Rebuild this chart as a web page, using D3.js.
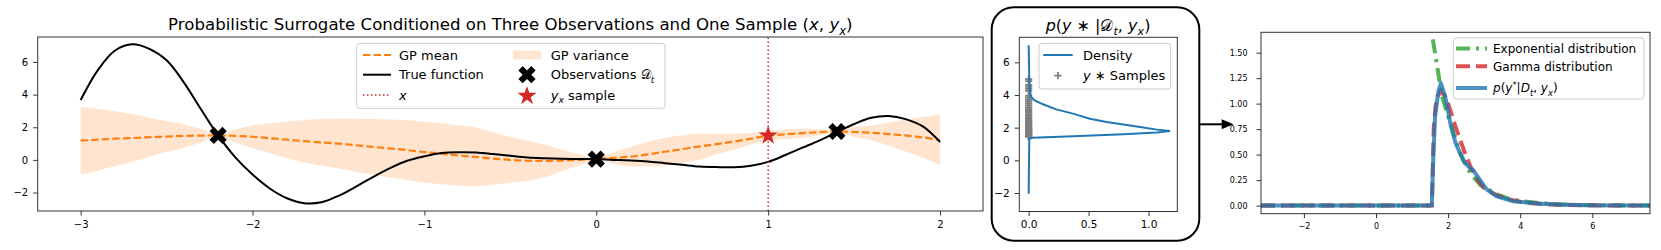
<!DOCTYPE html>
<html>
<head>
<meta charset="utf-8">
<script src="https://cdn.jsdelivr.net/npm/d3@7"></script>
<style>
  body { margin: 0; background: #fff; }
  svg text { font-family: "DejaVu Sans", sans-serif; fill: #000; }
</style>
</head>
<body>
<div id="chart"></div>
<script>
// ---------- panel 1 : GP surrogate ----------
const xGrid = [-3.0, -2.9, -2.8, -2.7, -2.6, -2.5, -2.4, -2.3, -2.2, -2.1, -2.0, -1.9, -1.8, -1.7, -1.6, -1.5, -1.4, -1.3, -1.2, -1.1,
  -1.0, -0.9, -0.8, -0.7, -0.6, -0.5, -0.4, -0.3, -0.2, -0.1, 0.0, 0.1, 0.2, 0.3, 0.4, 0.5, 0.6, 0.7, 0.8, 0.9,
  1.0, 1.1, 1.2, 1.3, 1.4, 1.5, 1.6, 1.7, 1.8, 1.9, 2.0];
const trueFunction = [3.67, 5.5, 6.7, 7.08, 6.8, 6.1, 4.75, 3.1, 1.5, 0.15, -0.9, -1.75, -2.35, -2.65, -2.6, -2.2, -1.65, -1.05, -0.5, -0.05,
  0.22, 0.42, 0.47, 0.45, 0.36, 0.25, 0.15, 0.1, 0.07, 0.06, 0.05, 0.0, -0.04, -0.1, -0.2, -0.3, -0.4, -0.44, -0.45, -0.36,
  -0.12, 0.3, 0.75, 1.2, 1.7, 2.2, 2.58, 2.69, 2.5, 2.05, 1.1];
const gpMean = [1.18, 1.24, 1.3, 1.34, 1.39, 1.43, 1.47, 1.49, 1.5, 1.47, 1.42, 1.33, 1.24, 1.15, 1.07, 1.0, 0.9, 0.8, 0.7, 0.6,
  0.48, 0.38, 0.27, 0.18, 0.08, 0.0, -0.05, -0.06, -0.04, 0.0, 0.05, 0.12, 0.2, 0.34, 0.5, 0.66, 0.82, 0.97, 1.12, 1.3,
  1.48, 1.57, 1.64, 1.7, 1.74, 1.71, 1.66, 1.58, 1.5, 1.38, 1.22];
const gpStd = [2.07, 1.9, 1.68, 1.45, 1.2, 0.95, 0.72, 0.42, 0.08, 0.4, 0.7, 0.92, 1.12, 1.3, 1.43, 1.52, 1.62, 1.7, 1.78, 1.83,
  1.86, 1.87, 1.85, 1.8, 1.6, 1.4, 1.22, 1.0, 0.65, 0.35, 0.08, 0.35, 0.6, 0.75, 0.85, 0.85, 0.8, 0.62, 0.5, 0.35,
  0.3, 0.3, 0.28, 0.18, 0.05, 0.3, 0.45, 0.7, 0.98, 1.25, 1.55];
const obsX = [-2.2, 0.0, 1.4];
const obsY = [1.5, 0.05, 1.74];
const sampleX = 1.0;
const sampleY = 1.49;
const xTicks1 = [-3, -2, -1, 0, 1, 2];
const yTicks1 = [-2, 0, 2, 4, 6];

// ---------- panel 2 : density of y* ----------
const densY = [-2.04, 1.3, 1.39, 1.47, 1.59, 1.71, 1.8, 1.88, 2.04, 2.2, 2.35, 2.55, 2.86, 3.12, 3.43, 3.67, 3.88, 4.3, 5.1, 7.04];
const densVal = [0, 0.005, 0.03, 0.37, 0.79, 1.07, 1.18, 1.07, 0.93, 0.79, 0.65, 0.51, 0.37, 0.23, 0.12, 0.05, 0.02, 0.01, 0.005, 0];
const ySamples = [1.44, 1.48, 1.52, 1.56, 1.6, 1.64, 1.68, 1.72, 1.77, 1.82, 1.87, 1.92, 1.98, 2.04, 2.1, 2.17, 2.24, 2.31, 2.39, 2.47,
  2.55, 2.64, 2.73, 2.82, 2.92, 3.02, 3.13, 3.24, 3.36, 3.48, 3.6, 3.72, 3.84, 3.95, 4.25, 4.38, 4.5, 4.62, 4.85, 4.97];
const xTicks2 = [0, 0.5, 1.0];

// ---------- panel 3 : fitted distributions ----------
// null splits the exponential pdf at its jump
const expX = [-3.19, 1.57, 1.57, 1.575, 1.7, 1.83, 2.0, 2.15, 2.35, 2.61, 2.9, 3.35, 3.7, 4.09, 4.8, 5.5, 6.5, 7.6];
const expY = [0, 0, null, 1.63, 1.36, 1.07, 0.88, 0.71, 0.5, 0.32, 0.2, 0.11, 0.065, 0.04, 0.015, 0.006, 0.002, 0];
const gammaX = [-3.19, 1.55, 1.6, 1.65, 1.7, 1.8, 1.9, 2.0, 2.1, 2.2, 2.33, 2.45, 2.6, 2.75, 3.0, 3.35, 3.7, 4.1, 4.6, 5.2, 6.0, 7.6];
const gammaY = [0, 0, 0.75, 0.97, 1.07, 1.12, 1.08, 1.0, 0.89, 0.78, 0.65, 0.53, 0.4, 0.29, 0.17, 0.1, 0.06, 0.03, 0.015, 0.005, 0.002, 0];
const kdeX = [-3.19, 1.547, 1.59, 1.64, 1.73, 1.8, 1.92, 2.06, 2.2, 2.43, 2.6, 2.71, 2.85, 3.0, 3.08, 3.35, 3.81, 4.46, 5.1, 5.8, 7.6];
const kdeY = [0, 0, 0.48, 0.88, 1.12, 1.2, 1.07, 0.81, 0.62, 0.435, 0.37, 0.34, 0.27, 0.19, 0.157, 0.09, 0.042, 0.02, 0.01, 0.002, 0];
const xTicks3 = [-2, 0, 2, 4, 6];
const yTicks3 = [0, 0.25, 0.5, 0.75, 1.0, 1.25, 1.5];

const orange = "#ff7f0e", red = "#d62728", blue = "#1f77b4", green = "#2ca02c";

const svg = d3.select("#chart").append("svg")
    .attr("width", 1661)
    .attr("height", 250);

// math-ish text built from tspans: {t, i: italic, sub, sup}
const mathText = (sel, parts, fs) => {
    let shift = 0;
    parts.forEach(p => {
        const target = p.sub ? fs * 0.28 : p.sup ? -fs * 0.38 : 0;
        const ts = sel.append("tspan").text(p.t).attr("dy", target - shift);
        shift = target;
        if (p.i) ts.style("font-style", "italic");
        if (p.sub || p.sup) ts.style("font-size", (fs * 0.7) + "px");
    });
};

const drawFrame = (g, x, y, xTicks, yTicks, xFmt, yFmt, fs, yPad, xPad) => {
    g.append("g")
        .attr("transform", `translate(0,${y.range()[0]})`)
        .call(d3.axisBottom(x).tickValues(xTicks).tickFormat(xFmt).tickSize(4.5).tickPadding(xPad))
        .call(a => a.select(".domain").remove())
        .call(a => a.selectAll("line").attr("stroke", "#333"))
        .call(a => a.selectAll("text").style("font-size", fs + "px").attr("fill", "#000"));
    g.append("g")
        .attr("transform", `translate(${x.range()[0]},0)`)
        .call(d3.axisLeft(y).tickValues(yTicks).tickFormat(yFmt).tickSize(4.5).tickPadding(yPad))
        .call(a => a.select(".domain").remove())
        .call(a => a.selectAll("line").attr("stroke", "#333"))
        .call(a => a.selectAll("text").style("font-size", fs + "px").attr("fill", "#000"));
    g.append("rect")
        .attr("x", x.range()[0]).attr("y", y.range()[1])
        .attr("width", x.range()[1] - x.range()[0])
        .attr("height", y.range()[0] - y.range()[1])
        .attr("fill", "none").attr("stroke", "#333").attr("stroke-width", 1);
};

// filled "X" marker like matplotlib
const xMarker = (k) => {
    const pts = [[-1, -2], [0, -1], [1, -2], [2, -1], [1, 0], [2, 1], [1, 2], [0, 1], [-1, 2], [-2, 1], [-1, 0], [-2, -1]];
    return "M" + pts.map(p => [p[0] * k, p[1] * k].join(",")).join("L") + "Z";
};
const starPath = d3.symbol(d3.symbolStar, 115)();

// ================= panel 1 =================
const x1 = d3.scaleLinear().domain([-3.25, 2.25]).range([37.7, 983]);
const y1 = d3.scaleLinear().domain([-3.13, 7.53]).range([211, 37]);
const p1 = svg.append("g");

const gpData = xGrid.map((x, i) => ({ x, f: trueFunction[i], m: gpMean[i], s: gpStd[i] }));

p1.append("path")
    .datum(gpData)
    .attr("d", d3.area().x(d => x1(d.x)).y0(d => y1(d.m - d.s)).y1(d => y1(d.m + d.s)).curve(d3.curveCatmullRom))
    .attr("fill", orange).attr("fill-opacity", 0.2);

p1.append("path")
    .datum(gpData)
    .attr("d", d3.line().x(d => x1(d.x)).y(d => y1(d.m)).curve(d3.curveCatmullRom))
    .attr("fill", "none").attr("stroke", orange).attr("stroke-width", 2.2)
    .attr("stroke-dasharray", "7.4,3.2");

p1.append("path")
    .datum(gpData)
    .attr("d", d3.line().x(d => x1(d.x)).y(d => y1(d.f)).curve(d3.curveCatmullRom))
    .attr("fill", "none").attr("stroke", "#000").attr("stroke-width", 2);

p1.append("line")
    .attr("x1", x1(sampleX)).attr("x2", x1(sampleX))
    .attr("y1", y1.range()[0]).attr("y2", y1.range()[1])
    .attr("stroke", red).attr("stroke-width", 1.5).attr("stroke-dasharray", "1.5,2.5");

p1.selectAll(".obs")
    .data(obsX.map((x, i) => [x, obsY[i]]))
    .join("path")
        .attr("class", "obs")
        .attr("d", xMarker(4.3))
        .attr("transform", d => `translate(${x1(d[0])},${y1(d[1])})`)
        .attr("fill", "#000");

p1.append("path")
    .attr("d", starPath)
    .attr("transform", `translate(${x1(sampleX)},${y1(sampleY)})`)
    .attr("fill", red);

drawFrame(p1, x1, y1, xTicks1, yTicks1, d3.format("d"), d3.format("d"), 10, 5, 5);

const t1 = p1.append("text")
    .attr("x", (x1.range()[0] + x1.range()[1]) / 2).attr("y", 30)
    .attr("text-anchor", "middle").style("font-size", "16.6px");
mathText(t1, [{ t: "Probabilistic Surrogate Conditioned on Three Observations and One Sample (" },
    { t: "x", i: true }, { t: ", " }, { t: "y", i: true }, { t: "x", i: true, sub: true }, { t: ")" }], 16.6);

// legend 1
const lg1 = p1.append("g");
lg1.append("rect")
    .attr("x", 356.7).attr("y", 43.3).attr("width", 308.3).attr("height", 65).attr("rx", 3)
    .attr("fill", "#fff").attr("fill-opacity", 0.8).attr("stroke", "#ccc");
const rows1 = [55, 74.7, 95];
lg1.append("line").attr("x1", 363).attr("x2", 391).attr("y1", rows1[0]).attr("y2", rows1[0])
    .attr("stroke", orange).attr("stroke-width", 2.2).attr("stroke-dasharray", "7.4,3.2");
lg1.append("line").attr("x1", 363).attr("x2", 391).attr("y1", rows1[1]).attr("y2", rows1[1])
    .attr("stroke", "#000").attr("stroke-width", 2);
lg1.append("line").attr("x1", 363).attr("x2", 391).attr("y1", rows1[2]).attr("y2", rows1[2])
    .attr("stroke", red).attr("stroke-width", 1.5).attr("stroke-dasharray", "1.5,2.5");
lg1.append("rect").attr("x", 513).attr("y", rows1[0] - 4.5).attr("width", 28).attr("height", 9)
    .attr("fill", orange).attr("fill-opacity", 0.2);
lg1.append("path").attr("d", xMarker(4.3)).attr("transform", `translate(527,${rows1[1]})`).attr("fill", "#000");
lg1.append("path").attr("d", starPath).attr("transform", `translate(527,${rows1[2] + 1})`).attr("fill", red);

const lgText = (g, x, y, parts, fs) => {
    const t = g.append("text").attr("x", x).attr("y", y + fs * 0.36).style("font-size", fs + "px");
    mathText(t, parts, fs);
};
lgText(lg1, 399, rows1[0], [{ t: "GP mean" }], 13);
lgText(lg1, 399, rows1[1], [{ t: "True function" }], 13);
lgText(lg1, 399, rows1[2], [{ t: "x", i: true }], 13);
lgText(lg1, 550.7, rows1[0], [{ t: "GP variance" }], 13);
lgText(lg1, 550.7, rows1[1], [{ t: "Observations " }, { t: "𝒟" }, { t: "t", i: true, sub: true }], 13);
lgText(lg1, 550.7, rows1[2], [{ t: "y", i: true }, { t: "x", i: true, sub: true }, { t: " sample" }], 13);

// ================= panel 2 =================
svg.append("rect")
    .attr("x", 991.7).attr("y", 7.3).attr("width", 207.6).attr("height", 233.4).attr("rx", 22)
    .attr("fill", "none").attr("stroke", "#000").attr("stroke-width", 2);

const x2 = d3.scaleLinear().domain([-0.078, 1.24]).range([1019.3, 1177.3]);
const y2 = d3.scaleLinear().domain([-3.13, 7.53]).range([211.5, 37.3]);
const p2 = svg.append("g");

p2.selectAll(".smp")
    .data(ySamples)
    .join("path")
        .attr("class", "smp")
        .attr("d", "M-3.6,0H3.6M0,-3.6V3.6")
        .attr("transform", d => `translate(${x2(0)},${y2(d)})`)
        .attr("stroke", "#7f7f7f").attr("stroke-width", 1.8).attr("fill", "none");

p2.append("path")
    .datum(densY.map((y, i) => [densVal[i], y]))
    .attr("d", d3.line().x(d => x2(d[0])).y(d => y2(d[1])))
    .attr("fill", "none").attr("stroke", blue).attr("stroke-width", 2);

drawFrame(p2, x2, y2, xTicks2, yTicks1, d3.format(".1f"), d3.format("d"), 10.5, 5, 5);

const t2 = p2.append("text")
    .attr("x", 1098).attr("y", 30.5)
    .attr("text-anchor", "middle").style("font-size", "16px");
mathText(t2, [{ t: "p", i: true }, { t: "(" }, { t: "y", i: true }, { t: " ∗ |" }, { t: "𝒟" }, { t: "t", i: true, sub: true },
    { t: ", " }, { t: "y", i: true }, { t: "x", i: true, sub: true }, { t: ")" }], 16);

const lg2 = p2.append("g");
lg2.append("rect")
    .attr("x", 1039).attr("y", 43.3).attr("width", 131.7).attr("height", 45.7).attr("rx", 3)
    .attr("fill", "#fff").attr("fill-opacity", 0.8).attr("stroke", "#ccc");
lg2.append("line").attr("x1", 1043.3).attr("x2", 1072.7).attr("y1", 55).attr("y2", 55)
    .attr("stroke", blue).attr("stroke-width", 2);
lg2.append("path").attr("d", "M-3.6,0H3.6M0,-3.6V3.6").attr("transform", "translate(1058,75.7)")
    .attr("stroke", "#7f7f7f").attr("stroke-width", 1.8);
lgText(lg2, 1083, 55, [{ t: "Density" }], 13);
lgText(lg2, 1083, 75.7, [{ t: "y", i: true }, { t: " ∗  Samples" }], 13);

// arrow
svg.append("line").attr("x1", 1199.3).attr("x2", 1224).attr("y1", 124.3).attr("y2", 124.3)
    .attr("stroke", "#000").attr("stroke-width", 2);
svg.append("path").attr("d", "M1221.7,119.3L1233.5,124.3L1221.7,129.3Z").attr("fill", "#000");

// ================= panel 3 =================
const x3 = d3.scaleLinear().domain([-3.19, 7.6]).range([1261, 1650]);
const y3 = d3.scaleLinear().domain([-0.08, 1.70]).range([213.7, 32.3]);
const p3 = svg.append("g");
const line3 = d3.line().defined(d => d[1] !== null).x(d => x3(d[0])).y(d => y3(d[1]));

p3.append("path")
    .datum(expX.map((x, i) => [x, expY[i]]))
    .attr("d", line3)
    .attr("fill", "none").attr("stroke", green).attr("stroke-opacity", 0.8).attr("stroke-width", 4)
    .attr("stroke-dasharray", "14,6,3,6");
p3.append("path")
    .datum(gammaX.map((x, i) => [x, gammaY[i]]))
    .attr("d", line3)
    .attr("fill", "none").attr("stroke", red).attr("stroke-opacity", 0.8).attr("stroke-width", 4)
    .attr("stroke-dasharray", "14,6");
p3.append("path")
    .datum(kdeX.map((x, i) => [x, kdeY[i]]))
    .attr("d", line3)
    .attr("fill", "none").attr("stroke", blue).attr("stroke-opacity", 0.8).attr("stroke-width", 4)
    .attr("stroke-linejoin", "round");

drawFrame(p3, x3, y3, xTicks3, yTicks3, d3.format("d"), d3.format(".2f"), 8, 9, 5);

const lg3 = p3.append("g");
lg3.append("rect")
    .attr("x", 1453.3).attr("y", 38).attr("width", 190.7).attr("height", 61).attr("rx", 3)
    .attr("fill", "#fff").attr("fill-opacity", 0.8).attr("stroke", "#ccc");
const rows3 = [48.5, 66.3, 88];
lg3.append("line").attr("x1", 1456).attr("x2", 1487).attr("y1", rows3[0]).attr("y2", rows3[0])
    .attr("stroke", green).attr("stroke-opacity", 0.8).attr("stroke-width", 4).attr("stroke-dasharray", "14,6,3,6");
lg3.append("line").attr("x1", 1456).attr("x2", 1487).attr("y1", rows3[1]).attr("y2", rows3[1])
    .attr("stroke", red).attr("stroke-opacity", 0.8).attr("stroke-width", 4).attr("stroke-dasharray", "14,6");
lg3.append("line").attr("x1", 1456).attr("x2", 1487).attr("y1", rows3[2]).attr("y2", rows3[2])
    .attr("stroke", blue).attr("stroke-opacity", 0.8).attr("stroke-width", 4);
lgText(lg3, 1493, rows3[0], [{ t: "Exponential distribution" }], 12);
lgText(lg3, 1493, rows3[1], [{ t: "Gamma distribution" }], 12);
lgText(lg3, 1493, rows3[2], [{ t: "p", i: true }, { t: "(" }, { t: "y", i: true }, { t: "*", sup: true }, { t: "|" },
    { t: "D", i: true }, { t: "t", i: true, sub: true }, { t: ", " }, { t: "y", i: true }, { t: "x", i: true, sub: true }, { t: ")" }], 12);
</script>
</body>
</html>
